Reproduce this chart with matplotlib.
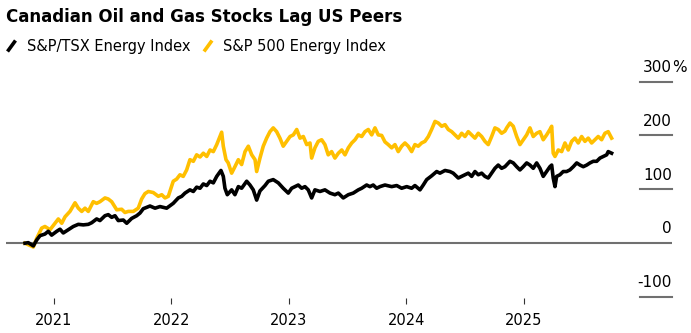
import matplotlib
matplotlib.use("Agg")
import matplotlib.pyplot as plt
import matplotlib.transforms as mtransforms
from matplotlib.lines import Line2D

# Data: cumulative change (%) since start, x given as decimal years
tsx_points = [
    (2020.753, 0), (2020.781, 1), (2020.824, -5), (2020.853, 6), (2020.881, 14), (2020.923, 17), (2020.951, 22), (2020.980, 15),
    (2021.023, 22), (2021.051, 26), (2021.079, 19), (2021.122, 25), (2021.164, 31), (2021.207, 35), (2021.249, 34), (2021.292, 35),
    (2021.321, 38), (2021.363, 45), (2021.391, 42), (2021.434, 51), (2021.462, 53), (2021.491, 48), (2021.519, 51), (2021.547, 42),
    (2021.590, 43), (2021.619, 37), (2021.661, 46), (2021.704, 51), (2021.732, 56), (2021.760, 64), (2021.817, 69), (2021.860, 65),
    (2021.902, 68), (2021.959, 65), (2022.015, 74), (2022.058, 84), (2022.087, 87), (2022.115, 93), (2022.157, 99), (2022.186, 96),
    (2022.214, 104), (2022.243, 102), (2022.271, 110), (2022.300, 107), (2022.328, 115), (2022.356, 112), (2022.385, 124), (2022.421, 135),
    (2022.441, 124), (2022.455, 102), (2022.475, 90), (2022.512, 99), (2022.540, 90), (2022.569, 105), (2022.597, 102), (2022.640, 115),
    (2022.668, 108), (2022.696, 99), (2022.725, 80), (2022.753, 97), (2022.796, 107), (2022.824, 115), (2022.866, 118), (2022.909, 112),
    (2022.951, 102), (2022.994, 93), (2023.023, 102), (2023.051, 105), (2023.079, 108), (2023.108, 102), (2023.136, 105), (2023.164, 99),
    (2023.193, 84), (2023.221, 99), (2023.264, 96), (2023.306, 99), (2023.349, 93), (2023.391, 90), (2023.420, 93), (2023.462, 84),
    (2023.505, 90), (2023.547, 93), (2023.590, 99), (2023.619, 102), (2023.661, 108), (2023.689, 105), (2023.717, 108), (2023.746, 102),
    (2023.774, 105), (2023.817, 108), (2023.874, 105), (2023.917, 107), (2023.959, 102), (2024.002, 105), (2024.044, 102), (2024.072, 107),
    (2024.115, 99), (2024.143, 108), (2024.172, 118), (2024.214, 125), (2024.257, 133), (2024.285, 130), (2024.328, 135), (2024.370, 133),
    (2024.398, 130), (2024.441, 121), (2024.470, 124), (2024.498, 127), (2024.526, 130), (2024.555, 124), (2024.583, 133), (2024.611, 127),
    (2024.640, 130), (2024.668, 124), (2024.696, 121), (2024.725, 130), (2024.753, 139), (2024.781, 145), (2024.810, 139), (2024.838, 142),
    (2024.881, 152), (2024.909, 149), (2024.938, 142), (2024.966, 136), (2024.994, 142), (2025.023, 149), (2025.051, 145), (2025.079, 139),
    (2025.108, 149), (2025.136, 139), (2025.164, 124), (2025.193, 133), (2025.221, 142), (2025.236, 145), (2025.249, 121), (2025.264, 105),
    (2025.278, 124), (2025.306, 127), (2025.334, 133), (2025.363, 133), (2025.391, 136), (2025.420, 142), (2025.449, 149), (2025.477, 145),
    (2025.505, 142), (2025.534, 145), (2025.562, 149), (2025.590, 152), (2025.619, 152), (2025.647, 158), (2025.675, 161), (2025.704, 164),
    (2025.717, 170), (2025.746, 167),
]

sp500_points = [
    (2020.753, 0), (2020.824, -7), (2020.853, 9), (2020.895, 28), (2020.923, 31), (2020.966, 25), (2021.009, 37), (2021.037, 45),
    (2021.066, 37), (2021.094, 49), (2021.136, 59), (2021.179, 75), (2021.207, 65), (2021.236, 59), (2021.264, 65), (2021.292, 59),
    (2021.334, 77), (2021.363, 74), (2021.391, 77), (2021.434, 84), (2021.462, 82), (2021.491, 77), (2021.534, 62), (2021.576, 63),
    (2021.604, 57), (2021.632, 59), (2021.675, 59), (2021.717, 65), (2021.746, 82), (2021.774, 92), (2021.803, 96), (2021.845, 94),
    (2021.888, 87), (2021.917, 90), (2021.945, 84), (2021.973, 87), (2022.015, 115), (2022.044, 119), (2022.072, 127), (2022.100, 124),
    (2022.129, 136), (2022.157, 155), (2022.186, 152), (2022.214, 164), (2022.243, 160), (2022.271, 167), (2022.300, 161), (2022.328, 173),
    (2022.356, 170), (2022.385, 183), (2022.407, 195), (2022.427, 206), (2022.441, 180), (2022.464, 155), (2022.483, 149), (2022.512, 130),
    (2022.540, 142), (2022.569, 155), (2022.597, 146), (2022.626, 170), (2022.654, 180), (2022.683, 164), (2022.711, 155), (2022.725, 133),
    (2022.753, 158), (2022.781, 180), (2022.810, 195), (2022.838, 207), (2022.866, 214), (2022.895, 207), (2022.923, 195), (2022.951, 180),
    (2022.980, 189), (2023.009, 198), (2023.037, 201), (2023.066, 211), (2023.094, 195), (2023.122, 198), (2023.151, 183), (2023.179, 186),
    (2023.193, 158), (2023.221, 177), (2023.249, 189), (2023.278, 192), (2023.306, 183), (2023.334, 164), (2023.363, 170), (2023.391, 158),
    (2023.420, 167), (2023.449, 173), (2023.477, 164), (2023.505, 177), (2023.534, 186), (2023.562, 192), (2023.590, 201), (2023.619, 198),
    (2023.647, 207), (2023.675, 211), (2023.704, 201), (2023.732, 214), (2023.760, 201), (2023.789, 200), (2023.817, 188), (2023.845, 183),
    (2023.874, 177), (2023.902, 183), (2023.930, 170), (2023.959, 180), (2023.987, 186), (2024.015, 180), (2024.044, 170), (2024.072, 183),
    (2024.100, 180), (2024.129, 186), (2024.157, 189), (2024.186, 198), (2024.214, 211), (2024.243, 226), (2024.271, 223), (2024.300, 217),
    (2024.328, 220), (2024.356, 211), (2024.385, 207), (2024.413, 201), (2024.441, 195), (2024.470, 204), (2024.498, 198), (2024.526, 207),
    (2024.555, 201), (2024.583, 195), (2024.611, 204), (2024.640, 198), (2024.668, 189), (2024.696, 183), (2024.725, 198), (2024.753, 214),
    (2024.781, 211), (2024.810, 204), (2024.838, 208), (2024.853, 214), (2024.881, 223), (2024.909, 217), (2024.938, 198), (2024.966, 183),
    (2024.994, 192), (2025.023, 201), (2025.051, 214), (2025.079, 198), (2025.108, 204), (2025.136, 207), (2025.164, 192), (2025.193, 201),
    (2025.221, 211), (2025.236, 217), (2025.249, 167), (2025.264, 161), (2025.292, 173), (2025.321, 170), (2025.349, 186), (2025.377, 173),
    (2025.406, 189), (2025.434, 195), (2025.462, 186), (2025.491, 198), (2025.519, 189), (2025.547, 195), (2025.576, 186), (2025.604, 192),
    (2025.632, 198), (2025.661, 192), (2025.689, 204), (2025.717, 207), (2025.746, 195),
]

year_ticks = [2021, 2022, 2023, 2024, 2025]
year_labels = ["2021", "2022", "2023", "2024", "2025"]
y_ticks = [300, 200, 100, 0, -100]
y_labels = ["300", "200", "100", "0", "-100"]

title = "Canadian Oil and Gas Stocks Lag US Peers"
series_names = ["S&P/TSX Energy Index", "S&P 500 Energy Index"]

BLACK = "#000000"
YELLOW = "#FFBF00"
GRAY = "#707070"

W, H = 691, 333
fig = plt.figure(figsize=(W / 100, H / 100), dpi=100)

# Plot area in pixels: x 6..672, y 60..298 (from top)
ax = fig.add_axes([6 / W, (H - 298) / H, 666 / W, 238 / H])
ax.set_xlim(2020.5915, 2026.26)
ax.set_ylim(-101.7, 340)

for side in ["top", "right", "left", "bottom"]:
    ax.spines[side].set_visible(False)

# Lines: yellow first so black sits on top
sp_t, sp_v = zip(*sp500_points)
tsx_t, tsx_v = zip(*tsx_points)
ax.plot(sp_t, sp_v, color=YELLOW, lw=2.6, solid_joinstyle="round", zorder=3)
ax.plot(tsx_t, tsx_v, color=BLACK, lw=2.6, solid_joinstyle="round", zorder=4)

# Zero line across full width
ax.axhline(0, color=GRAY, lw=1.5, zorder=2)

# Short grid stubs under right-side labels
trans = mtransforms.blended_transform_factory(ax.transAxes, ax.transData)
for val, lab in zip(y_ticks, y_labels):
    if val != 0:
        ax.plot([0.9525, 1.0], [val, val], transform=trans, color=GRAY, lw=1.5, clip_on=False)
    ax.annotate(lab, xy=(1.0, val), xycoords=trans, xytext=(0, 7.0), textcoords="offset points",
                ha="right", va="baseline", fontsize=11, color="#000000")
    if val == 300:
        ax.annotate("%", xy=(1.0, val), xycoords=trans, xytext=(0, 7.0), textcoords="offset points",
                    ha="left", va="baseline", fontsize=11, color="#000000")

# X axis
ax.set_yticks([])
ax.set_xticks(year_ticks)
ax.set_xticklabels(year_labels, fontsize=10.5)
ax.tick_params(axis="x", direction="out", length=4.3, width=0.8, color="#333333", pad=6.8)

# Title and legend
fig.text(6 / W, (H - 22) / H, title, fontsize=12, fontweight="bold", ha="left", va="baseline")

legend_items = [(7.5, 27, BLACK, series_names[0]), (204, 223, YELLOW, series_names[1])]
for x0, tx, col, name in legend_items:
    fig.add_artist(Line2D([x0 / W, (x0 + 8) / W], [(H - 51.5) / H, (H - 40.5) / H],
                          color=col, lw=2.6, solid_capstyle="butt", transform=fig.transFigure))
    fig.text(tx / W, (H - 50.5) / H, name, fontsize=10.5, ha="left", va="baseline")

fig.savefig("out.png", dpi=100)
